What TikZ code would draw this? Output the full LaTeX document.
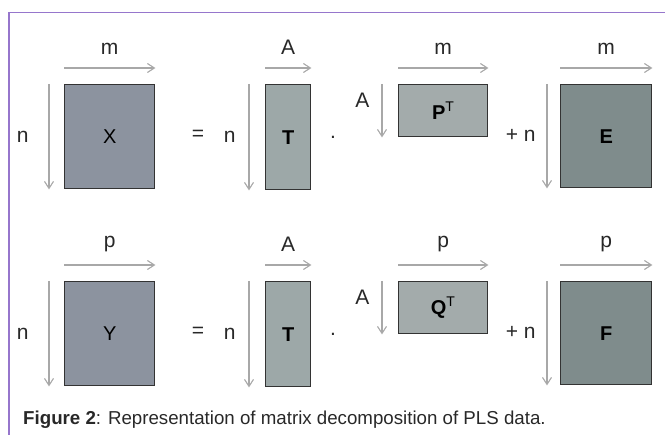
\documentclass[tikz,border=0pt]{standalone}
\usepackage{fontspec}
\setmainfont{Liberation Sans}
\usetikzlibrary{arrows.meta, positioning, calc}
\definecolor{framepurple}{RGB}{150,118,204}
\definecolor{arrowgray}{RGB}{168,168,168}
\definecolor{slatefill}{RGB}{140,147,159}
\definecolor{scorefill}{RGB}{157,168,168}
\definecolor{loadfill}{RGB}{163,171,171}
\definecolor{resfill}{RGB}{127,140,140}
\definecolor{textgray}{RGB}{40,40,40}

\begin{document}
\begin{tikzpicture}[x=1pt, y=-1pt, >={Straight Barb[length=7pt, width=9pt]},
    mat/.style={draw=black!80, line width=1.4pt, fill=#1, inner sep=0pt, anchor=north west, font=\fontsize{20}{22}\selectfont},
    dim/.style={->, arrowgray, line width=1.1pt},
    lbl/.style={text=textgray, font=\fontsize{21}{23}\selectfont, inner sep=0pt}]
    \useasboundingbox (0,0) rectangle (665,435);

    % Frame
    \draw [framepurple, line width=1.5pt] (665,12.5) -- (9,12.5) -- (9,435);

    % First row: X = T . P^T + E
    \node [mat=slatefill, minimum width=90, minimum height=104] (X) at (64,84) {X};
    \node [mat=scorefill, minimum width=45, minimum height=105] (T1) at (265,84) {\bfseries T};
    \node [mat=loadfill, minimum width=89, minimum height=52] (P) at (398,84) {{\bfseries P}\textsuperscript{T}};
    \node [mat=resfill, minimum width=91, minimum height=103] (E) at (560,84) {\bfseries E};

    \draw [dim] ([yshift=16]X.north west) -- ([yshift=16]X.north east) node[lbl, midway, above=13pt] {m};
    \draw [dim] ([xshift=-15]X.north west) -- ([xshift=-15]X.south west) node[lbl, midway, left=20pt] {n};
    \node [lbl] at (198,135) {=};
    \draw [dim] ([yshift=16]T1.north west) -- ([yshift=16]T1.north east) node[lbl, midway, above=13pt] {A};
    \draw [dim] ([xshift=-16]T1.north west) -- ([xshift=-16]T1.south west) node[lbl, midway, left=13pt] {n};
    \node [lbl] at (333,137) {.};
    \draw [dim] ([yshift=16]P.north west) -- ([yshift=16]P.north east) node[lbl, midway, above=13pt] {m};
    \draw [dim] ([xshift=-16]P.north west) -- ([xshift=-16]P.south west) node[lbl, pos=0.3, left=12pt] {A};
    \node [lbl] at (512,135) {+};
    \draw [dim] ([yshift=16]E.north west) -- ([yshift=16]E.north east) node[lbl, midway, above=13pt] {m};
    \draw [dim] ([xshift=-13]E.north west) -- ([xshift=-13]E.south west) node[lbl, midway, left=11pt] {n};

    % Second row: Y = T . Q^T + F
    \node [mat=slatefill, minimum width=90, minimum height=104] (Y) at (64,281) {Y};
    \node [mat=scorefill, minimum width=45, minimum height=105] (T2) at (265,281) {\bfseries T};
    \node [mat=loadfill, minimum width=89, minimum height=52] (Q) at (398,281) {{\bfseries Q}\textsuperscript{T}};
    \node [mat=resfill, minimum width=91, minimum height=103] (F) at (560,281) {\bfseries F};

    \draw [dim] ([yshift=16]Y.north west) -- ([yshift=16]Y.north east) node[lbl, midway, above=13pt] {p};
    \draw [dim] ([xshift=-15]Y.north west) -- ([xshift=-15]Y.south west) node[lbl, midway, left=20pt] {n};
    \node [lbl] at (198,332) {=};
    \draw [dim] ([yshift=16]T2.north west) -- ([yshift=16]T2.north east) node[lbl, midway, above=13pt] {A};
    \draw [dim] ([xshift=-16]T2.north west) -- ([xshift=-16]T2.south west) node[lbl, midway, left=13pt] {n};
    \node [lbl] at (333,334) {.};
    \draw [dim] ([yshift=16]Q.north west) -- ([yshift=16]Q.north east) node[lbl, midway, above=13pt] {p};
    \draw [dim] ([xshift=-16]Q.north west) -- ([xshift=-16]Q.south west) node[lbl, pos=0.3, left=12pt] {A};
    \node [lbl] at (512,332) {+};
    \draw [dim] ([yshift=16]F.north west) -- ([yshift=16]F.north east) node[lbl, midway, above=13pt] {p};
    \draw [dim] ([xshift=-13]F.north west) -- ([xshift=-13]F.south west) node[lbl, midway, left=11pt] {n};

    % Caption
    \node [anchor=west, inner sep=0pt, text=textgray, font=\fontsize{18.7}{20}\selectfont] (cap) at (23,420)
        {\textbf{Figure 2}: Representation of matrix decomposition of PLS data.};
\end{tikzpicture}
\end{document}
